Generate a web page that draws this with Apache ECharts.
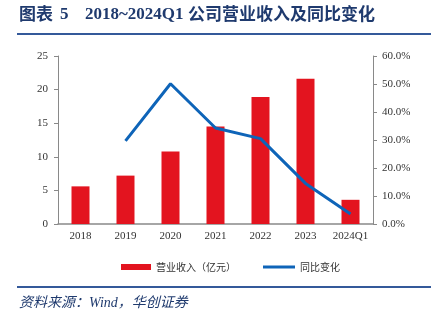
<!DOCTYPE html>
<html><head><meta charset="utf-8">
<script src="https://cdn.jsdelivr.net/npm/echarts@6/dist/echarts.min.js"></script>
<style>html,body{margin:0;padding:0;background:#fff}#c{width:437px;height:321px}</style>
</head><body><div id="c"></div>
<script>
const categories = ['2018','2019','2020','2021','2022','2023','2024Q1'];
const revenue = [5.6, 7.2, 10.8, 14.5, 18.9, 21.6, 3.6];
const yoy = [null, 29.7, 50.1, 34.3, 30.5, 14.5, 3.6];
const leftTicks = [0, 5, 10, 15, 20, 25];
const rightTicks = [0, 10, 20, 30, 40, 50, 60];

const serif = '"Liberation Serif", "Times New Roman", serif';
const cjk = '"Noto Sans CJK SC", sans-serif';
const navy = '#1f3a6e';
const chart = echarts.init(document.getElementById('c'), null, {renderer:'canvas'});
chart.setOption({
  animation: false,
  grid: {left: 58, right: 64, top: 56, bottom: 97},
  legend: [
    {data: ['营业收入（亿元）'], left: 116, top: 257, itemWidth: 30, itemHeight: 6, itemGap: 6,
     icon: 'rect',
     textStyle: {fontFamily: cjk, fontSize: 10, color: '#333'}},
    {data: ['同比变化'], left: 258, top: 257, itemWidth: 32, itemHeight: 3, icon: 'rect',
     textStyle: {fontFamily: cjk, fontSize: 10, color: '#333'}}
  ],
  xAxis: {
    type: 'category', data: categories,
    axisLine: {lineStyle: {color: '#898989', width: 1.5}},
    axisTick: {length: 3, lineStyle: {color: '#898989'}},
    axisLabel: {fontFamily: serif, fontSize: 11, color: '#333', margin: 7, interval: 0}
  },
  yAxis: [
    {type: 'value', min: leftTicks[0], max: leftTicks[leftTicks.length-1], interval: 5,
     axisLine: {show: true, lineStyle: {color: '#898989'}},
     axisTick: {show: true, length: 4, lineStyle: {color: '#898989'}},
     splitLine: {show: false},
     axisLabel: {fontFamily: serif, fontSize: 11, color: '#333', margin: 10}},
    {type: 'value', min: rightTicks[0], max: rightTicks[rightTicks.length-1], interval: 10,
     axisLine: {show: true, lineStyle: {color: '#898989'}},
     axisTick: {show: true, length: 4, lineStyle: {color: '#898989'}},
     splitLine: {show: false},
     axisLabel: {fontFamily: serif, fontSize: 11, color: '#333', margin: 9,
       formatter: v => v.toFixed(1) + '%'}}
  ],
  series: [
    {name: '营业收入（亿元）', type: 'bar', data: revenue, barWidth: 18,
     itemStyle: {color: '#e3141f'}},
    {name: '同比变化', type: 'line', yAxisIndex: 1, data: yoy, symbol: 'none',
     lineStyle: {color: '#0e64b8', width: 3}, itemStyle: {color: '#0e64b8'}}
  ],
  graphic: [
    {type: 'text', left: 19, top: 5, style: {text: '图表', font: 'bold 17px ' + cjk, fill: navy}},
    {type: 'text', left: 60, top: 6, style: {text: '5', font: 'bold 17px ' + serif, fill: navy}},
    {type: 'text', left: 85, top: 6, style: {text: '2018~2024Q1', font: 'bold 17px ' + serif, fill: navy}},
    {type: 'text', left: 188, top: 5, style: {text: '公司营业收入及同比变化', font: 'bold 17px ' + cjk, fill: navy}},
    {type: 'rect', shape: {x: 17, y: 33, width: 414, height: 2}, style: {fill: '#34599a'}},
    {type: 'rect', shape: {x: 17, y: 286, width: 414, height: 2}, style: {fill: '#34599a'}},
    {type: 'text', left: 19, top: 296, style: {text: '资料来源：Wind，华创证券', font: 'italic 14px ' + serif + ', ' + cjk, fill: navy}}
  ]
});
</script></body></html>
